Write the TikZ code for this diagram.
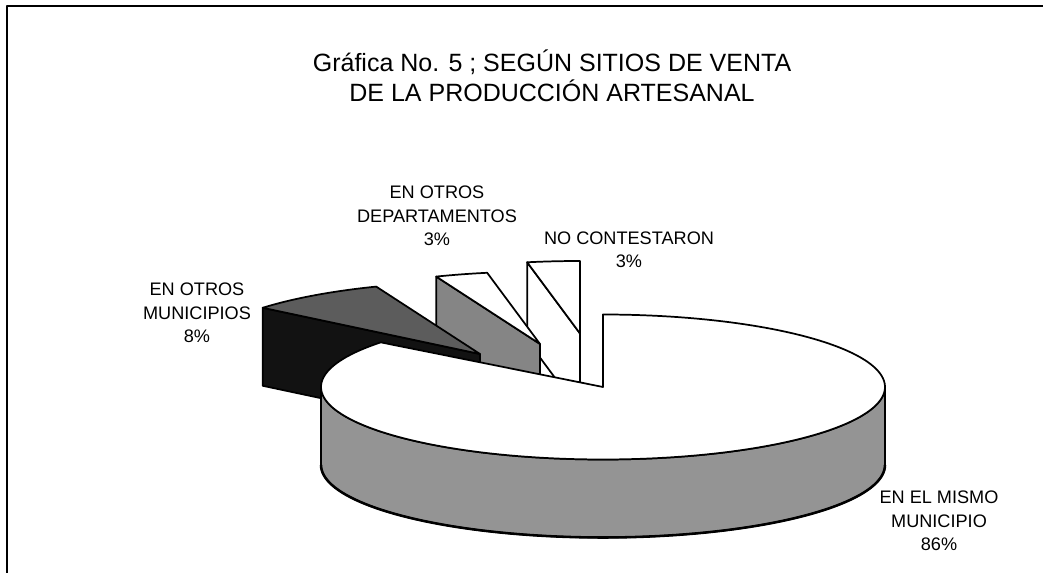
\documentclass[tikz,border=0pt]{standalone}
\usepackage{fontspec}
\setmainfont{Liberation Sans}
\definecolor{wallgray}{gray}{0.58}
\definecolor{darktopgray}{gray}{0.36}
\definecolor{darkfacegray}{gray}{0.07}
\definecolor{deptgray}{gray}{0.52}
\newcommand{\pieslice}[6]{%
  \filldraw[#5] ({#1+282*cos(#4)},{#2-72.5*sin(#4)}) -- ({#1},{#2}) -- ({#1},{#2+78}) -- ({#1+282*cos(#4)},{#2+78-72.5*sin(#4)}) -- cycle;
  \filldraw[#6] ({#1},{#2}) -- plot[domain=#3:#4,samples=24] ({#1+282*cos(\x)},{#2-72.5*sin(\x)}) -- cycle;
}
\begin{document}
\begin{tikzpicture}[x=0.75pt,y=-0.75pt,line join=round,
  edge/.style={draw=black,line width=1.3pt},
  whiteface/.style={edge,fill=white},
  wallface/.style={edge,fill=wallgray},
  darktop/.style={edge,fill=darktopgray},
  darkside/.style={edge,fill=darkfacegray},
  deptside/.style={edge,fill=deptgray},
  lbl/.style={align=center,font=\fontsize{13.6}{17.6}\selectfont,inner sep=0pt},
  ttl/.style={align=center,font=\fontsize{18.75}{22.5}\selectfont,inner sep=0pt}]
\useasboundingbox (0,0) rectangle (1043,573);
\fill[white] (0,0) rectangle (1043,573);
% frame
\draw[line width=1pt] (7,573) -- (7,6) -- (1043,6);
% title
\node[ttl] (title) at (552,75.5) {Gráfica No. 5 ; SEGÚN SITIOS DE VENTA\\DE LA PRODUCCIÓN ARTESANAL};
% exploded slices (back to front)
\pieslice{580}{333.5}{90}{100.8}{whiteface}{whiteface}
\pieslice{540}{344}{100.8}{111.6}{deptside}{whiteface}
\pieslice{480}{354}{111.6}{140.4}{darkside}{darktop}
% main slice
\filldraw[wallface] plot[domain=180:360,samples=90] ({603+282*cos(\x)},{387-72.5*sin(\x)})
  -- plot[domain=360:180,samples=90] ({603+282*cos(\x)},{465-72.5*sin(\x)}) -- cycle;
\draw[line width=1.9pt] plot[domain=360:180,samples=90] ({603+282*cos(\x)},{465-72.5*sin(\x)});
\coordinate (c0) at (603,387);
\filldraw[whiteface] (c0) -- plot[domain=90:-218,samples=160] ({603+282*cos(\x)},{387-72.5*sin(\x)}) -- cycle;
% labels
\node[lbl] (lmun) at (197,313) {EN OTROS\\MUNICIPIOS\\8\%};
\node[lbl] (ldep) at (437,216) {EN OTROS\\DEPARTAMENTOS\\3\%};
\node[lbl] (lnc) at (629,250) {NO CONTESTARON\\3\%};
\node[lbl] (lmis) at (939,521) {EN EL MISMO\\MUNICIPIO\\86\%};
\end{tikzpicture}
\end{document}
